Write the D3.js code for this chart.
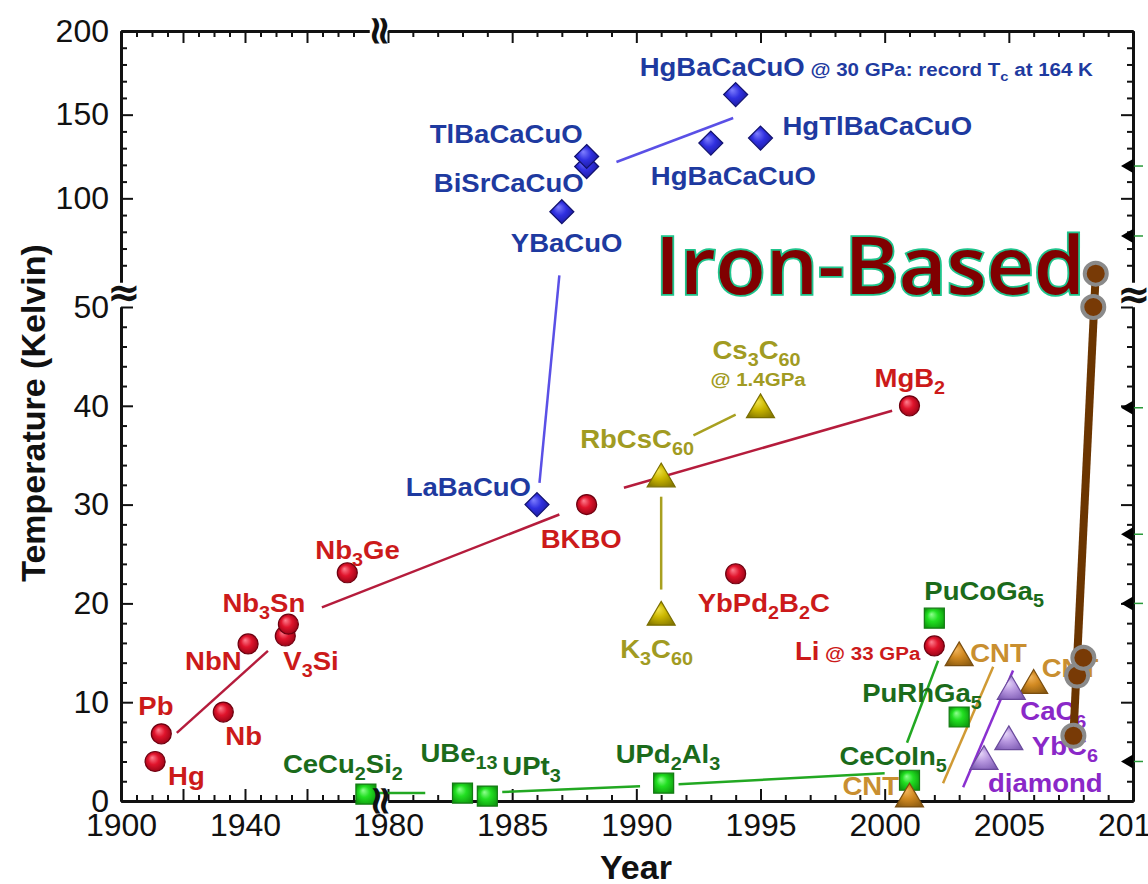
<!DOCTYPE html>
<html>
<head>
<meta charset="utf-8">
<script src="https://cdn.jsdelivr.net/npm/d3@7"></script>
<style>
  body { margin: 0; background: #fff; }
  text { font-family: "Liberation Sans", Arial, sans-serif; }
</style>
</head>
<body>
<script>
// ---- data: discovery year and Tc (K) ----
var redPts = [
  {name: "Hg", year: 1911, tc: 4.0},
  {name: "Pb", year: 1913, tc: 6.8},
  {name: "Nb", year: 1933, tc: 9.0},
  {name: "NbN", year: 1941, tc: 15.9},
  {name: "V_3Si", year: 1953, tc: 16.7},
  {name: "Nb_3Sn", year: 1954, tc: 17.9},
  {name: "Nb_3Ge", year: 1973, tc: 23.1},
  {name: "BKBO", year: 1988, tc: 30},
  {name: "YbPd_2B_2C", year: 1994, tc: 23},
  {name: "MgB_2", year: 2001, tc: 40},
  {name: "Li", note: " @ 33 GPa", year: 2002, tc: 15.7}
];
var bluePts = [
  {name: "LaBaCuO", year: 1986, tc: 30},
  {name: "YBaCuO", year: 1987, tc: 92},
  {name: "BiSrCaCuO", year: 1988, tc: 119},
  {name: "TlBaCaCuO", year: 1988, tc: 125},
  {name: "HgBaCaCuO", year: 1993, tc: 133},
  {name: "HgTlBaCaCuO", year: 1995, tc: 136},
  {name: "HgBaCaCuO", note: " @ 30 GPa: record T_c at 164 K", year: 1994, tc: 162}
];
var fullerenePts = [
  {name: "RbCsC_60", year: 1991, tc: 33},
  {name: "Cs_3C_60", line2: "@ 1.4GPa", year: 1995, tc: 40},
  {name: "K_3C_60", year: 1991, tc: 19}
];
var heavyPts = [
  {name: "CeCu_2Si_2", year: 1979, tc: 0.7},
  {name: "UBe_13", year: 1983, tc: 0.8},
  {name: "UPt_3", year: 1984, tc: 0.5},
  {name: "UPd_2Al_3", year: 1991.1, tc: 1.8},
  {name: "CeCoIn_5", year: 2001, tc: 2.1},
  {name: "PuRhGa_5", year: 2003, tc: 8.5},
  {name: "PuCoGa_5", year: 2002, tc: 18.5}
];
var cntPts = [
  {name: "CNT", year: 2001, tc: 0.6},
  {name: "CNT", year: 2003, tc: 14.9},
  {name: "CNT", year: 2006, tc: 12.1}
];
var carbonPts = [
  {name: "diamond", year: 2004, tc: 4.4},
  {name: "YbC_6", year: 2005, tc: 6.4},
  {name: "CaC_6", year: 2005.1, tc: 11.5}
];
var ironPts = [
  {year: 2007.6, tc: 6.6},
  {year: 2007.75, tc: 12.7},
  {year: 2008.0, tc: 14.5},
  {year: 2008.4, tc: 50},
  {year: 2008.5, tc: 55}
];

// trend lines: [[year, Tc], [year, Tc]]
var redLines = [[[1918, 6.9], [1947.4, 15.2]], [[1964.8, 19.6], [1986.9, 29.0]], [[1989.5, 31.7], [2000.3, 39.5]]];
var blueLines = [[[1986.1, 32.2], [1986.9, 54]], [[1989.2, 121.7], [1993.9, 148]]];
var fullereneLines = [[[1991, 30.8], [1991, 21.4]], [[1992.3, 37], [1994, 39.1]]];
var heavyLines = [[[1979.6, 0.8], [1981.5, 0.8]], [[1984.6, 0.9], [1990.15, 1.5]], [[1991.7, 1.7], [2000, 2.8]], [[2000.9, 5.9], [2002.15, 14.2]]];
var cntLines = [[[2002.35, 1.8], [2004.37, 13.6]]];
var carbonLines = [[[2003.16, 1.4], [2005.17, 13.2]]];

// leftover markers sitting on the right axis (Tc values)
var edgeMarks = [119.3, 77.5, 39.8, 27, 20, 4];

// tick labels
var yLabelsLow = [0, 10, 20, 30, 40, 50];
var yLabelsHigh = [100, 150, 200];
var xLabelsOld = [1900, 1940];
var xLabelsNew = [1980, 1985, 1990, 1995, 2000, 2005, 2010];

// ---- layout ----
var W = 1148, H = 884;
var plotLeft = 121, plotRight = 1133, plotTop = 31, plotBottom = 801;

var xOld = d3.scaleLinear().domain([1900, 1980]).range([plotLeft, 369]);
var xNew = d3.scaleLinear().domain([1980, 2010]).range([388, plotRight]);
var yLow = d3.scaleLinear().domain([0, 50]).range([plotBottom, 307]);
var yHigh = d3.scaleLinear().domain([50, 200]).range([282, plotTop]);
function px(yr) { return yr < 1979.5 ? xOld(yr) : xNew(yr); }
function py(t) { return t <= 50 ? yLow(t) : yHigh(t); }

// label offsets from the marker (dx, dy to baseline, anchor)
var labelPos = {
  "Hg|1911": [13, 24], "Pb|1913": [-23, -19], "Nb|1933": [2, 33], "NbN|1941": [-63, 26],
  "V_3Si|1953": [-2, 34], "Nb_3Sn|1954": [-66, -12], "Nb_3Ge|1973": [-32, -14],
  "BKBO|1988": [-46, 43], "YbPd_2B_2C|1994": [-38, 38], "MgB_2|2001": [-35, -19],
  "Li|2002": [-14, 14, "end"],
  "LaBaCuO|1986": [-6, -9, "end"], "YBaCuO|1987": [-51, 40], "BiSrCaCuO|1988": [-3, 25, "end"],
  "TlBaCaCuO|1988": [-4, -14, "end"], "HgBaCaCuO|1993": [-60, 42], "HgTlBaCaCuO|1995": [22, -3],
  "HgBaCaCuO|1994": [-96, -19],
  "RbCsC_60|1991": [-81, -27], "Cs_3C_60|1995": [-48, -47, "start", -50, -20], "K_3C_60|1991": [-41, 45],
  "CeCu_2Si_2|1979": [-83, -21], "UBe_13|1983": [-42, -31], "UPt_3|1984": [15, -21],
  "UPd_2Al_3|1991.1": [-48, -20], "CeCoIn_5|2001": [-70, -15], "PuRhGa_5|2003": [-97, -15],
  "PuCoGa_5|2002": [-10, -18],
  "CNT|2001": [-67, 0], "CNT|2003": [11, 8], "CNT|2006": [8, -4],
  "diamond|2004": [4, 34], "YbC_6|2005": [23, 17], "CaC_6|2005.1": [9, 33]
};

var svg = d3.select("body").append("svg")
    .attr("width", W)
    .attr("height", H)
    .style("background", "#fff");

var defs = svg.append("defs");
function ball(id, c0, c1, c2) {
  var g = defs.append("radialGradient").attr("id", id)
    .attr("cx", "50%").attr("cy", "50%").attr("r", "60%")
    .attr("fx", "35%").attr("fy", "30%");
  g.append("stop").attr("offset", "0%").attr("stop-color", c0);
  g.append("stop").attr("offset", "45%").attr("stop-color", c1);
  g.append("stop").attr("offset", "100%").attr("stop-color", c2);
}
ball("gRed", "#ff8090", "#e0142c", "#8a0012");
ball("gBlue", "#8080ff", "#3030e0", "#161690");
ball("gOlive", "#f4e650", "#ccb800", "#857800");
ball("gGreen", "#90ff90", "#22e022", "#0e9a0e");
ball("gOrange", "#f4b860", "#d28a22", "#8a5a10");
ball("gPurple", "#eadcfa", "#b898e0", "#7e5cb4");

function shapePath(shape, s) {
  if (shape === "circle") return d3.symbol(d3.symbolCircle, Math.PI * s * s)();
  if (shape === "diamond") return "M0," + (-s) + "L" + s + ",0L0," + s + "L" + (-s) + ",0Z";
  if (shape === "square") return "M" + (-s) + "," + (-s) + "h" + (2 * s) + "v" + (2 * s) + "h" + (-2 * s) + "Z";
  return "M0," + (-s * 0.85) + "L" + s + "," + (s * 0.85) + "L" + (-s) + "," + (s * 0.85) + "Z";
}

var groups = [
  {pts: heavyPts, lines: heavyLines, shape: "square", size: 10, fill: "url(#gGreen)", stroke: "#137a13", line: "#22a822", text: "#1b6b1b"},
  {pts: redPts, lines: redLines, shape: "circle", size: 10, fill: "url(#gRed)", stroke: "#6e0010", line: "#b51c3c", text: "#cc1a1a"},
  {pts: bluePts, lines: blueLines, shape: "diamond", size: 12, fill: "url(#gBlue)", stroke: "#12126e", line: "#5a50e6", text: "#1e3aa0"},
  {pts: fullerenePts, lines: fullereneLines, shape: "triangle", size: 14, fill: "url(#gOlive)", stroke: "#7a6e00", line: "#a8a020", text: "#a19b22"},
  {pts: cntPts, lines: cntLines, shape: "triangle", size: 14, fill: "url(#gOrange)", stroke: "#7a4e10", line: "#d09a34", text: "#c98f30"},
  {pts: carbonPts, lines: carbonLines, shape: "triangle", size: 14, fill: "url(#gPurple)", stroke: "#6a4a9c", line: "#8a30d0", text: "#8a28c8"}
];

// ---- axes ----
function axisPart(axisFn, scale, majors, minors, tx, ty, fmt) {
  var g1 = svg.append("g").attr("transform", "translate(" + tx + "," + ty + ")")
    .call(axisFn(scale).tickValues(minors).tickSize(-6).tickSizeOuter(0).tickFormat(""));
  var g2 = svg.append("g").attr("transform", "translate(" + tx + "," + ty + ")")
    .call(axisFn(scale).tickValues(majors).tickSize(-12).tickSizeOuter(0).tickPadding(12)
      .tickFormat(fmt || function() { return ""; }));
  [g1, g2].forEach(function(g) {
    g.select(".domain").attr("stroke", "#111").attr("stroke-width", 3);
    g.selectAll(".tick line").attr("stroke", "#111").attr("stroke-width", 2);
    g.selectAll("text").style("font-size", "32px").attr("fill", "#111")
      .style("font-family", "'Liberation Sans', Arial, sans-serif");
  });
}
function notIn(list) { return function(v) { return list.indexOf(v) < 0; }; }

var yMinLow = d3.range(0, 51, 2).filter(notIn(yLabelsLow));
var yMinHigh = d3.range(60, 200, 10).filter(notIn(yLabelsHigh));
var xMajOld = [1900, 1920, 1940, 1960];
var xMinOld = d3.range(1905, 1980, 5).filter(notIn(xMajOld));
var xMinNew = d3.range(1981, 2010).filter(function(v) { return v % 5 !== 0; });
var fmtOld = function(d) { return xLabelsOld.indexOf(d) >= 0 ? d : ""; };

axisPart(d3.axisLeft, yLow, yLabelsLow, yMinLow, plotLeft, 0, d3.format("d"));
axisPart(d3.axisLeft, yHigh, yLabelsHigh, yMinHigh, plotLeft, 0, d3.format("d"));
axisPart(d3.axisRight, yLow, yLabelsLow, yMinLow, plotRight, 0);
axisPart(d3.axisRight, yHigh, yLabelsHigh, yMinHigh, plotRight, 0);
axisPart(d3.axisBottom, xOld, xMajOld, xMinOld, 0, plotBottom, fmtOld);
axisPart(d3.axisBottom, xNew, xLabelsNew, xMinNew, 0, plotBottom, d3.format("d"));
axisPart(d3.axisTop, xOld, xMajOld, xMinOld, 0, plotTop);
axisPart(d3.axisTop, xNew, xLabelsNew, xMinNew, 0, plotTop);

// markers on the right axis
var edge = svg.append("g");
edge.selectAll("path").data(edgeMarks).enter().append("path")
  .attr("transform", function(d) { return "translate(" + plotRight + "," + py(d) + ")"; })
  .attr("d", "M-12,0L0,-7L0,7Z")
  .attr("fill", "#000");
edge.selectAll("line").data(edgeMarks).enter().append("line")
  .attr("x1", plotRight + 1).attr("x2", plotRight + 10)
  .attr("y1", function(d) { return py(d); }).attr("y2", function(d) { return py(d); })
  .attr("stroke", "#2a9a3a").attr("stroke-width", 1.5);

// axis titles
svg.append("text")
  .attr("transform", "translate(45,413) rotate(-90)")
  .attr("text-anchor", "middle")
  .style("font-size", "34px").style("font-weight", "bold")
  .attr("fill", "#111")
  .text("Temperature (Kelvin)");
svg.append("text")
  .attr("x", 636).attr("y", 879)
  .attr("text-anchor", "middle")
  .style("font-size", "34px").style("font-weight", "bold")
  .attr("fill", "#111")
  .text("Year");

// ---- trend lines ----
var line = d3.line().x(function(d) { return px(d[0]); }).y(function(d) { return py(d[1]); });
groups.forEach(function(gr) {
  svg.append("g").selectAll("path").data(gr.lines).enter().append("path")
    .attr("d", line)
    .attr("fill", "none")
    .attr("stroke", gr.line)
    .attr("stroke-width", 2.5);
});

// ---- markers ----
groups.forEach(function(gr) {
  svg.append("g").selectAll("path").data(gr.pts).enter().append("path")
    .attr("transform", function(d) { return "translate(" + px(d.year) + "," + py(d.tc) + ")"; })
    .attr("d", shapePath(gr.shape, gr.size))
    .attr("fill", gr.fill)
    .attr("stroke", gr.stroke)
    .attr("stroke-width", 1.2);
});

// axis breaks (drawn over the CeCu2Si2 square like in the original)
var breaks = [[plotLeft + 3, 292, 0], [plotRight + 1, 294, 0], [382, plotBottom, 90], [381, plotTop, 90]];
svg.append("g").selectAll("text").data(breaks).enter().append("text")
  .attr("transform", function(d) { return "translate(" + d[0] + "," + d[1] + ") rotate(" + d[2] + ")"; })
  .attr("text-anchor", "middle")
  .attr("dy", "0.35em")
  .style("font-family", "'DejaVu Sans', sans-serif")
  .style("font-size", "40px")
  .style("font-weight", "bold")
  .attr("fill", "#111")
  .text("\u2248");

// ---- labels ----
function appendRich(t, str, size, state) {
  var parts = str.split(/_(\d+|c)/);
  parts.forEach(function(p, i) {
    if (p === "") return;
    var ts = t.append("tspan").text(p).style("font-size", size + "px");
    if (i % 2 === 1) {
      ts.style("font-size", (size * 0.72) + "px");
      if (!state.low) { ts.attr("dy", size * 0.28); state.low = size * 0.28; }
    } else if (state.low) {
      ts.attr("dy", -state.low); state.low = 0;
    }
  });
}
function drawLabel(x, y, anchor, color, main, note) {
  var t = svg.append("text")
    .attr("transform", "translate(" + x + "," + y + ") scale(1.08,1)")
    .attr("text-anchor", anchor || "start")
    .attr("fill", color)
    .style("font-weight", "bold")
    .style("white-space", "pre");
  var state = {low: 0};
  if (main) appendRich(t, main, 25.5, state);
  if (note) appendRich(t, note, 19, state);
}
groups.forEach(function(gr) {
  gr.pts.forEach(function(d) {
    var p = labelPos[d.name + "|" + d.year];
    if (!p) return;
    var x = px(d.year), y = py(d.tc);
    drawLabel(x + p[0], y + p[1], p[2], gr.text, d.name, d.note);
    if (d.line2) drawLabel(x + p[3], y + p[4], "start", gr.text, null, d.line2);
  });
});

// ---- iron-based ----
svg.append("text")
  .attr("x", 655).attr("y", 294)
  .attr("textLength", 430)
  .attr("lengthAdjust", "spacingAndGlyphs")
  .style("font-family", "'Open Sans', sans-serif")
  .style("font-size", "80px")
  .style("font-weight", 600)
  .attr("fill", "#800000")
  .attr("stroke", "#1fc48c")
  .attr("stroke-width", 3.5)
  .style("paint-order", "stroke")
  .text("Iron-Based");

svg.append("path")
  .datum([ironPts[0], ironPts[ironPts.length - 1]])
  .attr("d", d3.line().x(function(d) { return px(d.year); }).y(function(d) { return py(d.tc); }))
  .attr("stroke", "#6b3500")
  .attr("stroke-width", 8)
  .attr("fill", "none");

svg.append("g").selectAll("circle").data(ironPts).enter().append("circle")
  .attr("cx", function(d) { return px(d.year); })
  .attr("cy", function(d) { return py(d.tc); })
  .attr("r", 11)
  .attr("fill", "#783a06")
  .attr("stroke", "#8a8a8a")
  .attr("stroke-width", 4);
</script>
</body>
</html>
